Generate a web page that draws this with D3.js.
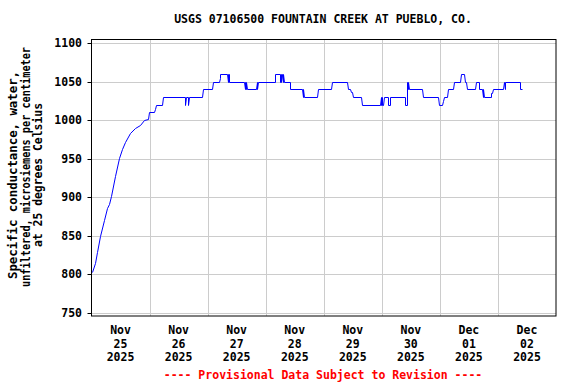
<!DOCTYPE html>
<html>
<head>
<meta charset="utf-8">
<script src="https://cdn.jsdelivr.net/npm/d3@7"></script>
<style>
  body { margin: 0; background: #fff; }
  text { font-family: "DejaVu Sans Mono", monospace; font-weight: bold; }
</style>
</head>
<body>
<svg id="chart" width="576" height="384"></svg>
<script>
// titles
const title = "USGS 07106500 FOUNTAIN CREEK AT PUEBLO, CO.";
const yLabelLines = ["Specific conductance, water,", "unfiltered, microsiemens per centimeter", "at 25 degrees Celsius"];
const footer = "---- Provisional Data Subject to Revision ----";

// days on the x axis (labels at noon, grid at midnight)
const days = ["2025-11-25", "2025-11-26", "2025-11-27", "2025-11-28", "2025-11-29", "2025-11-30", "2025-12-01", "2025-12-02"];
const yTicks = [750, 800, 850, 900, 950, 1000, 1050, 1100];

// readings: [month-day time, value]
const readings = [
  ["11-25 00:15", 803], ["11-25 01:15", 815], ["11-25 02:15", 829], ["11-25 03:30", 850],
  ["11-25 05:00", 871], ["11-25 06:15", 886], ["11-25 07:15", 891], ["11-25 08:15", 902],
  ["11-25 09:45", 927], ["11-25 11:30", 951], ["11-25 12:30", 962], ["11-25 14:00", 972],
  ["11-25 16:00", 983], ["11-25 18:00", 990], ["11-25 20:15", 994], ["11-25 21:30", 1000],
  ["11-25 23:30", 1001], ["11-25 23:45", 1010],
  ["11-26 02:00", 1010], ["11-26 02:15", 1015], ["11-26 02:30", 1020], ["11-26 05:15", 1020],
  ["11-26 05:30", 1030], ["11-26 14:30", 1030], ["11-26 14:45", 1020], ["11-26 15:00", 1030],
  ["11-26 15:45", 1030], ["11-26 16:00", 1020], ["11-26 16:15", 1030], ["11-26 21:45", 1030],
  ["11-26 22:00", 1040],
  ["11-27 02:00", 1040], ["11-27 02:15", 1050], ["11-27 04:45", 1050], ["11-27 05:00", 1055],
  ["11-27 05:15", 1060], ["11-27 08:00", 1060], ["11-27 08:15", 1050], ["11-27 08:30", 1060],
  ["11-27 08:45", 1060], ["11-27 09:00", 1050], ["11-27 15:00", 1050], ["11-27 15:15", 1040],
  ["11-27 15:30", 1050], ["11-27 15:45", 1040], ["11-27 16:00", 1050], ["11-27 16:15", 1040],
  ["11-27 20:00", 1040], ["11-27 20:15", 1050], ["11-27 20:30", 1040], ["11-27 20:45", 1050],
  ["11-28 03:45", 1050], ["11-28 04:00", 1060], ["11-28 05:45", 1060], ["11-28 06:00", 1050],
  ["11-28 06:15", 1060], ["11-28 06:30", 1050], ["11-28 06:45", 1060], ["11-28 07:00", 1050],
  ["11-28 07:15", 1060], ["11-28 07:30", 1050], ["11-28 10:00", 1050], ["11-28 10:15", 1040],
  ["11-28 15:00", 1040], ["11-28 15:15", 1030], ["11-28 15:30", 1040], ["11-28 15:45", 1030],
  ["11-28 21:15", 1030], ["11-28 21:30", 1040],
  ["11-29 03:00", 1040], ["11-29 03:15", 1050], ["11-29 09:45", 1050], ["11-29 10:00", 1040],
  ["11-29 11:00", 1040], ["11-29 11:15", 1036], ["11-29 11:45", 1036], ["11-29 12:00", 1030],
  ["11-29 15:30", 1030], ["11-29 15:45", 1020], ["11-29 23:15", 1020], ["11-29 23:30", 1030],
  ["11-29 23:45", 1020],
  ["11-30 00:00", 1030], ["11-30 00:15", 1020], ["11-30 00:30", 1020], ["11-30 00:45", 1030],
  ["11-30 02:30", 1030], ["11-30 02:45", 1020], ["11-30 03:15", 1020], ["11-30 03:30", 1030],
  ["11-30 09:30", 1030], ["11-30 09:45", 1020], ["11-30 10:15", 1020], ["11-30 10:30", 1050],
  ["11-30 10:45", 1040], ["11-30 11:00", 1050], ["11-30 11:15", 1040], ["11-30 16:45", 1040],
  ["11-30 17:00", 1030], ["11-30 23:15", 1030], ["11-30 23:30", 1020],
  ["12-01 01:00", 1020], ["12-01 01:15", 1025], ["12-01 01:30", 1030], ["12-01 03:00", 1030],
  ["12-01 03:15", 1040], ["12-01 05:30", 1040], ["12-01 05:45", 1050], ["12-01 08:30", 1050],
  ["12-01 08:45", 1060], ["12-01 10:00", 1060], ["12-01 10:15", 1050], ["12-01 11:00", 1050],
  ["12-01 11:15", 1040], ["12-01 14:30", 1040], ["12-01 14:45", 1050], ["12-01 16:00", 1050],
  ["12-01 16:15", 1040], ["12-01 17:30", 1040], ["12-01 17:45", 1030], ["12-01 18:00", 1040],
  ["12-01 18:15", 1030], ["12-01 21:00", 1030], ["12-01 21:15", 1035], ["12-01 21:45", 1035],
  ["12-01 22:00", 1040],
  ["12-02 02:15", 1040], ["12-02 02:30", 1050], ["12-02 02:45", 1040], ["12-02 03:00", 1050],
  ["12-02 09:00", 1050], ["12-02 09:15", 1040], ["12-02 09:45", 1040]
];

const parseTime = d3.timeParse("%Y-%m-%d %H:%M");
const parseDay = d3.timeParse("%Y-%m-%d");
const data = readings.map(r => ({ t: parseTime("2025-" + r[0]), v: r[1] }));

const plot = { left: 91.5, right: 556, top: 39.5, bottom: 316 };
const svg = d3.select("#chart");

const x = d3.scaleTime()
    .domain([parseDay("2025-11-25"), parseDay("2025-12-03")])
    .range([plot.left, plot.right]);
const y = d3.scaleLinear()
    .domain([746, 1104.5])
    .range([plot.bottom, plot.top]);

// grid
const dayDates = days.map(parseDay);
svg.append("g").selectAll("line")
   .data(dayDates.slice(1))
   .join("line")
   .attr("x1", d => Math.round(x(d)) + 0.5).attr("x2", d => Math.round(x(d)) + 0.5)
   .attr("y1", plot.top).attr("y2", plot.bottom)
   .attr("stroke", "#cccccc");
svg.append("g").selectAll("line")
   .data(yTicks)
   .join("line")
   .attr("x1", plot.left).attr("x2", plot.right)
   .attr("y1", d => Math.round(y(d)) + 0.5).attr("y2", d => Math.round(y(d)) + 0.5)
   .attr("stroke", "#cccccc");

// y ticks and labels
svg.append("g").selectAll("line")
   .data(yTicks)
   .join("line")
   .attr("x1", plot.left - 4).attr("x2", plot.left)
   .attr("y1", d => Math.round(y(d)) + 0.5).attr("y2", d => Math.round(y(d)) + 0.5)
   .attr("stroke", "black");
svg.append("g").selectAll("text")
   .data(yTicks)
   .join("text")
   .attr("x", 82).attr("y", d => y(d) + 4)
   .attr("text-anchor", "end")
   .style("font-size", "11.5px")
   .text(d => d);

// x labels at noon
const fmts = [d3.timeFormat("%b"), d3.timeFormat("%d"), d3.timeFormat("%Y")];
const xl = svg.append("g").selectAll("text")
   .data(dayDates)
   .join("text")
   .attr("text-anchor", "middle")
   .style("font-size", "11.5px")
   .attr("transform", d => `translate(${x(d3.timeHour.offset(d, 12))},0)`);
fmts.forEach((f, i) => {
  xl.append("tspan").attr("x", 0).attr("y", 334 + i * 13.5).text(d => f(d));
});

// data line, snapped to pixel centres so flat runs stay sharp
const line = d3.line()
    .x(d => Math.round(x(d.t)) + 0.5)
    .y(d => Math.round(y(d.v)) + 0.5);
svg.append("path")
   .datum(data)
   .attr("d", line)
   .attr("fill", "none")
   .attr("stroke", "#0000ff")
   .attr("stroke-width", 1);

// frame
svg.append("rect")
   .attr("x", plot.left).attr("y", plot.top)
   .attr("width", plot.right - plot.left).attr("height", plot.bottom - plot.top)
   .attr("fill", "none").attr("stroke", "black");

// title
svg.append("text")
   .attr("x", 323).attr("y", 23)
   .attr("text-anchor", "middle")
   .style("font-size", "11.5px")
   .text(title);

// y axis label (the original font is proportional, so stretch each line)
const labelLengths = [208, 240, 144];
yLabelLines.forEach((s, i) => {
  svg.append("text")
     .attr("transform", `translate(${17 + i * 12.5},${i === 1 ? 167 : 175}) rotate(-90)`)
     .attr("text-anchor", "middle")
     .attr("textLength", labelLengths[i])
     .attr("lengthAdjust", "spacingAndGlyphs")
     .style("font-size", "11.5px")
     .text(s);
});

// footer
svg.append("text")
   .attr("x", 323).attr("y", 379)
   .attr("text-anchor", "middle")
   .style("font-size", "11.5px")
   .attr("fill", "#ff0000")
   .text(footer);
</script>
</body>
</html>
